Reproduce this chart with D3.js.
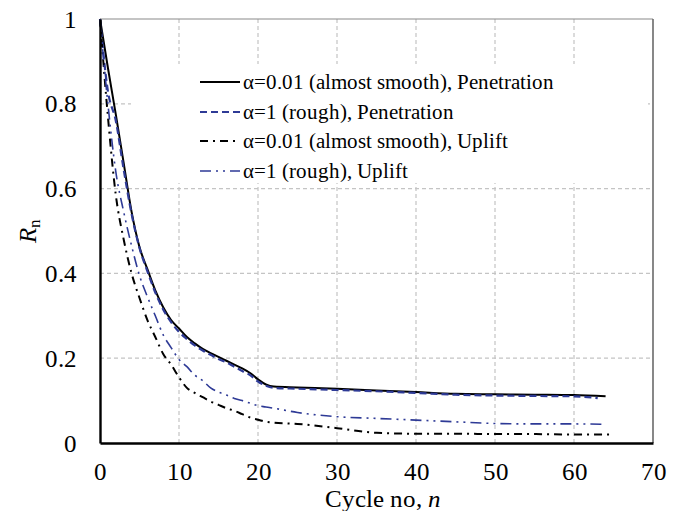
<!DOCTYPE html>
<html>
<head>
<meta charset="utf-8">
<script src="https://cdn.jsdelivr.net/npm/d3@7"></script>
<style>
  @font-face { font-family: "ChartSerif"; src: local("Liberation Serif"), local("LiberationSerif"), local("LiberationSerif-Regular"); font-style: normal; }
  @font-face { font-family: "ChartSerif"; src: local("Liberation Serif Italic"), local("LiberationSerif-Italic"); font-style: italic; }
  body { margin: 0; }
  #chart text { font-family: ChartSerif, serif; }
</style>
</head>
<body>
<svg id="chart" width="681" height="511"></svg>
<script>
// cycle numbers for each curve (last cycle differs a little per curve)
var cyclesSmoothPen = [0,1,2,3,4,5,6,7,8,9,10,11,12,13,14,15,16,17,18,19,20,21,22,25,30,35,40,45,50,55,60,64];
var cyclesRoughPen  = [0,1,2,3,4,5,6,7,8,9,10,11,12,13,14,15,16,17,18,19,20,21,22,25,30,35,40,45,50,55,60,63];
var cyclesSmoothUp  = [0,1,2,3,4,5,6,7,8,9,10,11,12,13,14,15,16,17,18,19,20,21,22,25,30,35,40,45,50,55,60,65];
var cyclesRoughUp   = [0,1,2,3,4,5,6,7,8,9,10,11,12,13,14,15,16,17,18,19,20,21,22,25,30,35,40,45,50,55,60,64];

// R_n
var smoothPen = [1.0,0.885,0.775,0.66,0.545,0.462,0.41,0.36,0.32,0.29,0.27,0.25,0.235,0.222,0.212,0.203,0.194,0.185,0.176,0.165,0.15,0.138,0.133,0.131,0.128,0.124,0.12,0.116,0.115,0.114,0.113,0.11];
var roughPen  = [1.0,0.83,0.76,0.645,0.54,0.46,0.405,0.355,0.315,0.285,0.262,0.245,0.23,0.218,0.208,0.198,0.19,0.18,0.17,0.16,0.145,0.135,0.13,0.128,0.125,0.122,0.118,0.114,0.112,0.111,0.11,0.106];
var smoothUp  = [1.0,0.77,0.585,0.48,0.40,0.342,0.29,0.25,0.21,0.185,0.155,0.13,0.118,0.108,0.098,0.09,0.082,0.076,0.068,0.06,0.055,0.05,0.048,0.045,0.035,0.024,0.022,0.022,0.021,0.021,0.02,0.02];
var roughUp   = [1.0,0.80,0.64,0.545,0.465,0.395,0.345,0.30,0.255,0.225,0.197,0.18,0.16,0.147,0.13,0.12,0.113,0.105,0.1,0.094,0.088,0.085,0.082,0.072,0.062,0.058,0.054,0.05,0.046,0.045,0.045,0.044];

var seriesNames = [
    "\u03b1=0.01 (almost smooth), Penetration",
    "\u03b1=1 (rough), Penetration",
    "\u03b1=0.01 (almost smooth), Uplift",
    "\u03b1=1 (rough), Uplift"
];

var xTicks = [0,10,20,30,40,50,60,70];
var yTicks = [0,0.2,0.4,0.6,0.8,1];

var blue = "#2e3a96";
var serif = "ChartSerif, serif";

var series = [
    {name: seriesNames[0], n: cyclesSmoothPen, r: smoothPen, color: "#000", width: 2, dash: null},
    {name: seriesNames[1], n: cyclesRoughPen,  r: roughPen,  color: blue,   width: 2.2, dash: "7,4"},
    {name: seriesNames[2], n: cyclesSmoothUp,  r: smoothUp,  color: "#000", width: 2, dash: "8,5,2,5"},
    {name: seriesNames[3], n: cyclesRoughUp,   r: roughUp,   color: blue,   width: 1.6, dash: "11,5,2,5,2,5"}
];

var margin = {left: 100, top: 19, right: 28, bottom: 68};
var svg = d3.select("#chart");
var width = 681 - margin.left - margin.right,
    height = 511 - margin.top - margin.bottom;

var x = d3.scaleLinear().domain([0,70]).range([0,width]);
var y = d3.scaleLinear().domain([0,1]).range([height,0]);

var g = svg.append("g")
    .attr("transform", "translate(" + margin.left + "," + margin.top + ")");

//gridlines
g.selectAll(".vgrid")
    .data(xTicks.filter(function(d){ return d > 0 && d < 70; }))
    .enter().append("line")
    .attr("class","vgrid")
    .attr("x1", function(d){ return x(d); })
    .attr("x2", function(d){ return x(d); })
    .attr("y1", 0).attr("y2", height)
    .attr("stroke","#c4c4c4").attr("stroke-width",1.2)
    .attr("stroke-dasharray","4,3");

g.selectAll(".hgrid")
    .data(yTicks.filter(function(d){ return d > 0 && d < 1; }))
    .enter().append("line")
    .attr("class","hgrid")
    .attr("x1", 0).attr("x2", width)
    .attr("y1", function(d){ return y(d); })
    .attr("y2", function(d){ return y(d); })
    .attr("stroke","#c4c4c4").attr("stroke-width",1.2)
    .attr("stroke-dasharray","4,3");

// top and right frame
g.append("line")
    .attr("x1",0).attr("x2",width).attr("y1",y(1)).attr("y2",y(1))
    .attr("stroke","#8a8a8a").attr("stroke-width",1.2);
g.append("line")
    .attr("x1",x(70)).attr("x2",x(70)).attr("y1",0).attr("y2",height)
    .attr("stroke","#6a6a6a").attr("stroke-width",1.6);

// legend background hides the grid behind it
var legend = g.append("g").attr("transform","translate(31,45)");
legend.append("rect")
    .attr("width", 517).attr("height", 119)
    .attr("fill","#fff");

// curves
var line = d3.line()
    .curve(d3.curveMonotoneX)
    .x(function(d){ return x(d[0]); })
    .y(function(d){ return y(d[1]); });

g.selectAll(".curve")
    .data(series)
    .enter().append("path")
    .attr("class","curve")
    .attr("d", function(s){ return line(d3.zip(s.n, s.r)); })
    .attr("fill","none")
    .attr("stroke", function(s){ return s.color; })
    .attr("stroke-width", function(s){ return s.width; })
    .attr("stroke-dasharray", function(s){ return s.dash; })
    .attr("stroke-linejoin","round");

// axes
var xAxis = g.append("g")
    .attr("class","axis axis--x")
    .attr("transform","translate(0," + height + ")")
    .call(d3.axisBottom(x).tickValues(xTicks).tickSize(0).tickPadding(19).tickFormat(d3.format("d")));
var yAxis = g.append("g")
    .attr("class","axis axis--y")
    .call(d3.axisLeft(y).tickValues(yTicks).tickSize(0).tickPadding(23).tickFormat(function(d){ return d === 0 || d === 1 ? d : d.toFixed(1); }));

d3.selectAll(".axis").attr("font-family", serif).attr("font-size", 25);
d3.selectAll(".axis path").attr("stroke","#000").attr("stroke-width",2.4);
d3.selectAll(".axis text")
    .attr("font-family", serif)
    .attr("font-size", 25).attr("fill","#000");
xAxis.selectAll("text").attr("dy","0.71em");

// axis titles
var xTitle = svg.append("text")
    .attr("x", margin.left + width/2 + 6)
    .attr("y", 507)
    .attr("text-anchor","middle")
    .attr("font-family", serif)
    .attr("font-size", 25);
xTitle.append("tspan").text("Cycle no, ");
xTitle.append("tspan").attr("font-style","italic").text("n");

var yTitle = svg.append("text")
    .attr("transform","translate(36," + (margin.top + height/2) + ") rotate(-90)")
    .attr("text-anchor","middle")
    .attr("font-family", serif)
    .attr("font-size", 25);
yTitle.append("tspan").attr("font-style","italic").text("R");
yTitle.append("tspan").attr("font-size",17).attr("dy",4).text("n");

// legend entries
var rowY = [18, 48, 77, 107];
var items = legend.selectAll(".item")
    .data(series)
    .enter().append("g")
    .attr("class","item")
    .attr("transform", function(d,i){ return "translate(0," + rowY[i] + ")"; });

items.append("line")
    .attr("x1",69).attr("x2",109).attr("y1",0).attr("y2",0)
    .attr("stroke", function(s){ return s.color; })
    .attr("stroke-width", function(s){ return s.width; })
    .attr("stroke-dasharray", function(s){ return s.dash; });

items.append("text")
    .attr("x",112).attr("y",0).attr("dy","0.35em")
    .attr("font-family", serif)
    .attr("font-size", 21)
    .text(function(s){ return s.name; });
</script>
</body>
</html>
